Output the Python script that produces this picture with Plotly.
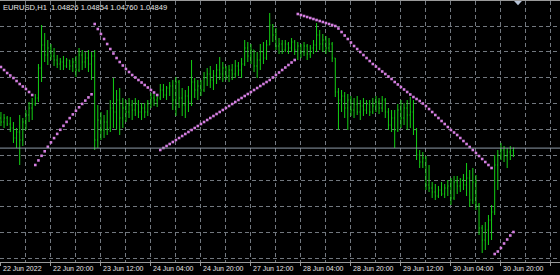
import plotly.graph_objects as go

symbol_label = "EURUSD,H1  1.04826 1.04854 1.04760 1.04849"

open_ = [
    1.0515, 1.0511, 1.0515, 1.0509, 1.0505, 1.0495, 1.0501, 1.0493, 1.0511, 1.0518,
    1.0525, 1.0529, 1.0535, 1.0565, 1.0588, 1.0578, 1.0585, 1.0577, 1.0573, 1.0569,
    1.0571, 1.0567, 1.0573, 1.0567, 1.0571, 1.0563, 1.0578, 1.0571, 1.0575, 1.0569,
    1.0577, 1.0493, 1.0513, 1.0503, 1.0511, 1.0505, 1.0525, 1.0521, 1.0533, 1.0515,
    1.0525, 1.0521, 1.0528, 1.0523, 1.0529, 1.0521, 1.0525, 1.0521, 1.0529, 1.0535,
    1.0533, 1.0535, 1.0543, 1.0538, 1.0545, 1.0547, 1.0533, 1.0551, 1.0535, 1.0528,
    1.0537, 1.0531, 1.0551, 1.0543, 1.0547, 1.0543, 1.0555, 1.0559, 1.0553, 1.0557,
    1.0563, 1.0559, 1.0565, 1.0557, 1.0563, 1.0559, 1.0567, 1.0563, 1.0569, 1.0585,
    1.0577, 1.0583, 1.0567, 1.0573, 1.0581, 1.0575, 1.0588, 1.0608, 1.0598, 1.0587,
    1.0589, 1.0583, 1.0589, 1.0585, 1.0591, 1.0583, 1.0587, 1.0581, 1.0587, 1.0579,
    1.0585, 1.0588, 1.0598, 1.0589, 1.0593, 1.0585, 1.0589, 1.0575, 1.0541, 1.0533,
    1.0537, 1.0525, 1.0533, 1.0523, 1.0529, 1.0521, 1.0527, 1.0523, 1.0529, 1.0521,
    1.0527, 1.0531, 1.0525, 1.0533, 1.0521, 1.0508, 1.0515, 1.0503, 1.0523, 1.0515,
    1.0525, 1.0518, 1.0521, 1.0503, 1.0478, 1.0471, 1.0475, 1.0448, 1.0445, 1.0441,
    1.0437, 1.0443, 1.0439, 1.0445, 1.0447, 1.0435, 1.0451, 1.0447, 1.0453, 1.0448,
    1.0455, 1.0433, 1.0451, 1.0428, 1.0405, 1.0393, 1.0403, 1.0413, 1.0421, 1.0468,
    1.0478, 1.0483, 1.0477, 1.0481, 1.04826,
]

high = [
    1.0521, 1.0519, 1.0517, 1.0516, 1.0511, 1.0505, 1.0518, 1.0515, 1.0523, 1.0531,
    1.0535, 1.0539, 1.0569, 1.0608, 1.0600, 1.0593, 1.0589, 1.0585, 1.0578, 1.0575,
    1.0577, 1.0575, 1.0573, 1.0575, 1.0577, 1.0585, 1.0583, 1.0581, 1.0583, 1.0581,
    1.0583, 1.0528, 1.0521, 1.0518, 1.0523, 1.0533, 1.0555, 1.0543, 1.0545, 1.0535,
    1.0533, 1.0535, 1.0533, 1.0535, 1.0533, 1.0530, 1.0530, 1.0533, 1.0540, 1.0539,
    1.0537, 1.0549, 1.0549, 1.0547, 1.0551, 1.0553, 1.0556, 1.0553, 1.0545, 1.0543,
    1.0547, 1.0573, 1.0555, 1.0553, 1.0553, 1.0561, 1.0565, 1.0567, 1.0563, 1.0569,
    1.0576, 1.0571, 1.0567, 1.0568, 1.0569, 1.0573, 1.0571, 1.0575, 1.0593, 1.0591,
    1.0589, 1.0583, 1.0581, 1.0589, 1.0591, 1.0593, 1.0620, 1.0609, 1.0605, 1.0595,
    1.0593, 1.0593, 1.0591, 1.0595, 1.0593, 1.0591, 1.0589, 1.0591, 1.0589, 1.0588,
    1.0593, 1.0610, 1.0603, 1.0599, 1.0597, 1.0595, 1.0591, 1.0575, 1.0545, 1.0543,
    1.0541, 1.0539, 1.0537, 1.0535, 1.0537, 1.0533, 1.0535, 1.0533, 1.0533, 1.0535,
    1.0537, 1.0535, 1.0537, 1.0535, 1.0525, 1.0523, 1.0523, 1.0529, 1.0533, 1.0530,
    1.0533, 1.0536, 1.0533, 1.0505, 1.0483, 1.0481, 1.0477, 1.0468, 1.0451, 1.0449,
    1.0447, 1.0451, 1.0449, 1.0453, 1.0455, 1.0457, 1.0457, 1.0455, 1.0459, 1.0470,
    1.0463, 1.0465, 1.0458, 1.0430, 1.0408, 1.0411, 1.0418, 1.0428, 1.0478, 1.0483,
    1.0490, 1.0487, 1.0485, 1.0487, 1.04854,
]

low = [
    1.0507, 1.0505, 1.0507, 1.0501, 1.0490, 1.0485, 1.0468, 1.0487, 1.0503, 1.0511,
    1.0513, 1.0527, 1.0531, 1.0551, 1.0571, 1.0568, 1.0573, 1.0567, 1.0565, 1.0563,
    1.0563, 1.0565, 1.0563, 1.0561, 1.0556, 1.0561, 1.0563, 1.0565, 1.0561, 1.0553,
    1.0483, 1.0485, 1.0493, 1.0495, 1.0498, 1.0501, 1.0505, 1.0503, 1.0498, 1.0505,
    1.0511, 1.0515, 1.0513, 1.0517, 1.0515, 1.0513, 1.0515, 1.0517, 1.0525, 1.0527,
    1.0526, 1.0533, 1.0535, 1.0533, 1.0537, 1.0523, 1.0517, 1.0525, 1.0517, 1.0515,
    1.0521, 1.0527, 1.0535, 1.0533, 1.0537, 1.0541, 1.0547, 1.0545, 1.0543, 1.0549,
    1.0553, 1.0551, 1.0553, 1.0551, 1.0553, 1.0555, 1.0557, 1.0555, 1.0567, 1.0571,
    1.0569, 1.0561, 1.0555, 1.0563, 1.0569, 1.0573, 1.0588, 1.0591, 1.0583, 1.0579,
    1.0579, 1.0581, 1.0579, 1.0581, 1.0578, 1.0573, 1.0575, 1.0577, 1.0573, 1.0575,
    1.0579, 1.0581, 1.0583, 1.0581, 1.0579, 1.0581, 1.0571, 1.0536, 1.0503, 1.0521,
    1.0515, 1.0503, 1.0517, 1.0515, 1.0518, 1.0513, 1.0517, 1.0519, 1.0517, 1.0519,
    1.0521, 1.0519, 1.0521, 1.0515, 1.0503, 1.0501, 1.0485, 1.0501, 1.0505, 1.0508,
    1.0503, 1.0505, 1.0498, 1.0473, 1.0465, 1.0465, 1.0443, 1.0441, 1.0435, 1.0433,
    1.0435, 1.0437, 1.0435, 1.0437, 1.0428, 1.0433, 1.0439, 1.0441, 1.0443, 1.0437,
    1.0426, 1.0429, 1.0423, 1.0398, 1.0380, 1.0383, 1.0388, 1.0393, 1.0418, 1.0443,
    1.0473, 1.0471, 1.0465, 1.0473, 1.0476,
]

close = [
    1.0511, 1.0515, 1.0509, 1.0505, 1.0495, 1.0501, 1.0493, 1.0511, 1.0518, 1.0525,
    1.0529, 1.0535, 1.0565, 1.0588, 1.0578, 1.0585, 1.0577, 1.0573, 1.0569, 1.0571,
    1.0567, 1.0573, 1.0567, 1.0571, 1.0563, 1.0578, 1.0571, 1.0575, 1.0569, 1.0577,
    1.0493, 1.0513, 1.0503, 1.0511, 1.0505, 1.0525, 1.0521, 1.0533, 1.0515, 1.0525,
    1.0521, 1.0528, 1.0523, 1.0529, 1.0521, 1.0525, 1.0521, 1.0529, 1.0535, 1.0533,
    1.0535, 1.0543, 1.0538, 1.0545, 1.0547, 1.0533, 1.0551, 1.0535, 1.0528, 1.0537,
    1.0531, 1.0551, 1.0543, 1.0547, 1.0543, 1.0555, 1.0559, 1.0553, 1.0557, 1.0563,
    1.0559, 1.0565, 1.0557, 1.0563, 1.0559, 1.0567, 1.0563, 1.0569, 1.0585, 1.0577,
    1.0583, 1.0567, 1.0573, 1.0581, 1.0575, 1.0588, 1.0608, 1.0598, 1.0587, 1.0589,
    1.0583, 1.0589, 1.0585, 1.0591, 1.0583, 1.0587, 1.0581, 1.0587, 1.0579, 1.0585,
    1.0588, 1.0598, 1.0589, 1.0593, 1.0585, 1.0589, 1.0575, 1.0541, 1.0533, 1.0537,
    1.0525, 1.0533, 1.0523, 1.0529, 1.0521, 1.0527, 1.0523, 1.0529, 1.0521, 1.0527,
    1.0531, 1.0525, 1.0533, 1.0521, 1.0508, 1.0515, 1.0503, 1.0523, 1.0515, 1.0525,
    1.0518, 1.0521, 1.0503, 1.0478, 1.0471, 1.0475, 1.0448, 1.0445, 1.0441, 1.0437,
    1.0443, 1.0439, 1.0445, 1.0447, 1.0435, 1.0451, 1.0447, 1.0453, 1.0448, 1.0455,
    1.0433, 1.0451, 1.0428, 1.0405, 1.0393, 1.0403, 1.0413, 1.0421, 1.0468, 1.0478,
    1.0483, 1.0477, 1.0481, 1.0478, 1.04849,
]

sar = [
    1.0566, 1.0563, 1.0560, 1.05575, 1.0555, 1.0552, 1.0549, 1.05465, 1.0544, 1.0541,
    1.0538, 1.04680, 1.04726, 1.04772, 1.04817, 1.04862, 1.04906, 1.04949, 1.04991, 1.05032,
    1.05072, 1.05111, 1.05149, 1.05186, 1.05222, 1.05257, 1.05291, 1.05324, 1.05356, 1.05387,
    1.06090, 1.06040, 1.05990, 1.05940, 1.05890, 1.05840, 1.05795, 1.05750, 1.05710, 1.05675,
    1.05640, 1.05610, 1.05580, 1.05555, 1.05530, 1.05505, 1.05480, 1.05455, 1.05430, 1.05405,
    1.05380, 1.0483, 1.0485, 1.0487, 1.0489, 1.0491, 1.0493, 1.0495, 1.0497, 1.0499,
    1.0501, 1.0503, 1.0505, 1.0507, 1.0509, 1.0511, 1.0513, 1.0515, 1.0517, 1.0519,
    1.0521, 1.0523, 1.0525, 1.0527, 1.0529, 1.0531, 1.0533, 1.0535, 1.0537, 1.0539,
    1.0541, 1.0543, 1.0545, 1.0547, 1.0549, 1.0551, 1.0553, 1.05555, 1.0558, 1.05605,
    1.0563, 1.05655, 1.0568, 1.05705, 1.0573, 1.0619, 1.0618, 1.0617, 1.0616, 1.0615,
    1.0614, 1.0613, 1.0612, 1.0611, 1.0610, 1.0609, 1.0608, 1.0607, 1.06045, 1.0601,
    1.05975, 1.0594, 1.05905, 1.0587, 1.0584, 1.0581, 1.0578, 1.0575, 1.0572, 1.0569,
    1.05665, 1.0564, 1.05615, 1.0559, 1.05565, 1.0554, 1.0551, 1.05485, 1.0546, 1.05435,
    1.0541, 1.05385, 1.0536, 1.0534, 1.0532, 1.05295, 1.0527, 1.0524, 1.0521, 1.0518,
    1.0515, 1.0512, 1.0509, 1.0506, 1.0503, 1.05005, 1.0498, 1.0495, 1.0492, 1.0489,
    1.0486, 1.0483, 1.0480, 1.0477, 1.0474, 1.0471, 1.0468, 1.0465, 1.0379, 1.03815,
    1.0385, 1.03895, 1.03935, 1.03975, 1.0401,
]

tick_bars = [0, 16, 32, 48, 64, 80, 96, 112, 128, 144, 160]
tick_labels = ["22 Jun 2022", "22 Jun 20:00", "23 Jun 12:00", "24 Jun 04:00",
               "24 Jun 20:00", "27 Jun 12:00", "28 Jun 04:00", "28 Jun 20:00",
               "29 Jun 12:00", "30 Jun 04:00", "30 Jun 20:00"]

bars = list(range(len(close)))

BAR_GREEN = "#14d014"
SAR_COLOR = "#d47ee0"
GRID = "#72787f"
FONT = "Liberation Sans, Arial, sans-serif"

fig = go.Figure()
fig.add_trace(go.Ohlc(
    x=bars, open=open_, high=high, low=low, close=close,
    increasing=dict(line=dict(color=BAR_GREEN, width=1)),
    decreasing=dict(line=dict(color=BAR_GREEN, width=1)),
    tickwidth=0.25, hoverinfo="skip", showlegend=False,
))
fig.add_trace(go.Scatter(
    x=bars, y=sar, mode="markers",
    marker=dict(symbol="square", size=2.6, color=SAR_COLOR, line=dict(width=0)),
    hoverinfo="skip", showlegend=False,
))

# bid line at the last close
fig.add_shape(type="line", xref="paper", x0=0, x1=1, y0=close[-1], y1=close[-1],
              line=dict(color="#8e9aa8", width=1), layer="above")

# chart-shift marker at the top
fig.add_shape(type="path", xref="paper", yref="paper",
              path="M 0.918 1.0 L 0.932 1.0 L 0.925 0.984 Z",
              fillcolor="#b6c2d6", line=dict(width=0))

for b, t in zip(tick_bars, tick_labels):
    fig.add_annotation(x=b, y=0, xref="x", yref="paper", text=t, showarrow=False,
                       xanchor="left", yanchor="top", xshift=1, yshift=-2, borderpad=0,
                       font=dict(family=FONT, size=7, color="#e6e6e6"))

fig.add_annotation(x=0, y=1, xref="paper", yref="paper", text=symbol_label,
                   showarrow=False, xanchor="left", yanchor="top", xshift=2, yshift=-1,
                   borderpad=0, font=dict(family=FONT, size=7.6, color="#e6e6e6"))

fig.update_layout(
    width=560, height=275,
    margin=dict(l=0, r=0, t=1, b=13),
    paper_bgcolor="black", plot_bgcolor="black",
    showlegend=False,
    xaxis=dict(
        range=[-0.3, 178.9], rangeslider=dict(visible=False),
        tickmode="linear", tick0=0, dtick=16,
        showgrid=True, gridcolor=GRID, griddash="4px,3px", gridwidth=1,
        minor=dict(dtick=8, tick0=0, showgrid=True, gridcolor=GRID,
                   griddash="4px,3px", ticks=""),
        ticks="outside", ticklen=3, tickcolor="#9a9a9a",
        showticklabels=False, zeroline=False,
        showline=True, linecolor="#9a9a9a", linewidth=1, mirror=True,
    ),
    yaxis=dict(
        range=[1.0371, 1.0632],
        tickmode="linear", tick0=1.0478, dtick=0.00258,
        showgrid=True, gridcolor=GRID, griddash="4px,3px", gridwidth=1,
        showticklabels=False, zeroline=False, showline=False, ticks="",
    ),
)

fig.write_html("out.html")
